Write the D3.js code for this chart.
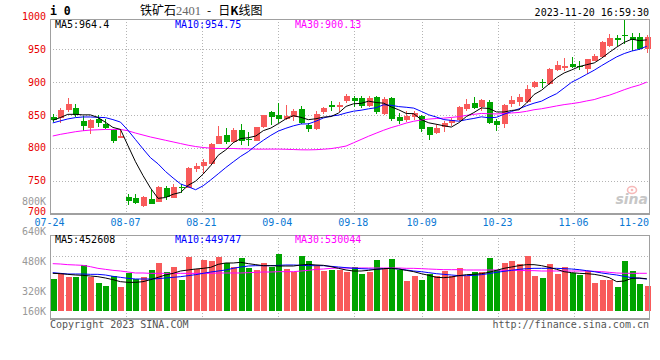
<!DOCTYPE html>
<html><head><meta charset="utf-8">
<script src="https://cdn.jsdelivr.net/npm/d3@7"></script>
<style>body{margin:0;background:#fff}svg{display:block}</style>
</head><body><svg id="c" width="660" height="360"></svg>
<script>
const dates = ["07-24","07-25","07-26","07-27","07-28","07-31","08-01","08-02","08-03","08-04","08-07","08-08","08-09","08-10","08-11","08-14","08-15","08-16","08-17","08-18","08-21","08-22","08-23","08-24","08-25","08-28","08-29","08-30","08-31","09-01","09-04","09-05","09-06","09-07","09-08","09-11","09-12","09-13","09-14","09-15","09-18","09-19","09-20","09-21","09-22","09-25","09-26","09-27","09-28","10-09","10-10","10-11","10-12","10-13","10-16","10-17","10-18","10-19","10-20","10-23","10-24","10-25","10-26","10-27","10-30","10-31","11-01","11-02","11-03","11-06","11-07","11-08","11-09","11-10","11-13","11-14","11-15","11-16","11-17","11-20"];
const tickLabels = ["07-24","08-07","08-21","09-04","09-18","10-09","10-23","11-06","11-20"];
const priceTicks = [700,750,800,850,900,950,1000];
const volTicks = [160,320,480,640,800];
const open = [847.5,845,858,860,841.5,830.5,844,837,827.5,815.5, 725,723.5,711.5,722,718,739,724,740.5,739.5,768.5, 772.5,775,806.5,819.5,809.5,827,813,811,831,854, 850.5,844.5,847.5,859,835.5,828.5,854,864.5,862.5,871, 876.5,875.5,863.5,877.5,851.5,875.5,846.5,842,847.5,849, 831,822,831,837.5,842.5,859,868,861.5,870.5,841.5, 836.5,866.5,870.5,870.5,892,901,897,918,922,927.5, 924.5,919.5,932.5,938.5,955,966.5,972.5,968.5,968.5,950];
const high = [852,861,876.5,867,848.5,844,850,844,829,828, 729,729,726.5,735.5,742.5,742,744.5,744.5,771,777.5, 782.5,808,833,830.5,829.5,836,824.5,832,850.5,856.5, 868,864.5,859,863,837.5,855.5,862,871,869.5,881.5, 879,879,879,879,877,877,852.5,855.5,855.5,849.5, 832,836.5,840.5,845.5,864,874.5,877,874.5,872.5,844, 866.5,879.5,882,896,902,904.5,922,932.5,937.5,938.5, 932.5,936,943.5,962.5,973.5,972.5,994,975.5,975.5,972.5];
const low = [840,837.5,855,847,825,821.5,832,829,807.5,815.5, 713,715,710.5,714,717.5,721,723.5,731.5,738.5,763.5, 759.5,774,805.5,806.5,808,804,803.5,810,830.5,835.5, 837.5,843,841.5,837,823.5,827,851,856,854,868, 862.5,861,862.5,851.5,850.5,840.5,836.5,839,842.5,823.5, 812,821,824.5,832.5,841.5,856.5,859,855.5,836.5,825.5, 830.5,862.5,864,869,891,891,896,917,917,921, 918,912,931.5,937.5,953.5,955,958.5,947.5,948.5,945];
const close = [842.5,857.5,867,850,834,842.5,838.5,830.5,810.5,818.5, 719,716,725,715,740.5,725,741,739.5,769,772.5, 779,805.5,818,809.5,827,810.5,812,831,850.5,846.5, 844.5,848,855.5,838,828.5,851.5,860.5,861.5,864.5,879.5, 871.5,863.5,876.5,854,874.5,843.5,841.5,848.5,852.5,828.5, 819.5,830,837.5,842.5,861.5,866.5,860.5,872.5,838,835.5, 865.5,872.5,878,889.5,900.5,898,920.5,926.5,924.5,923, 923.5,935,940,961,966.5,964.5,970.5,964.5,950,968.5];
const ma5 = [842,846,851,851,850.2,850.2,846.3,839.0,831.1,828.1, 803.4,778.9,757.8,738.7,723.1,724.3,729.3,732.1,742.9,749.3, 760.1,772.9,788.7,796.8,807.8,814.1,815.4,818.0,826.2,830.1, 836.9,844.1,849.0,846.4,842.9,844.3,846.8,847.6,853.0,863.1, 867.1,867.7,871.1,869.0,868.0,862.4,857.9,852.4,852.0,842.9, 838.1,835.9,833.6,831.6,838.2,847.6,853.7,860.8,859.9,854.7, 854.5,856.9,857.9,868.2,881.2,887.7,897.3,907.0,914.0,918.6, 923.7,926.6,929.3,936.6,945.3,953.4,960.6,965.5,963.3,964.4];
const ma10 = [838,841,844,846,847,847,846.5,846,843,839.2, 826.8,812.6,798.4,784.9,775.6,763.9,754.1,745.0,740.8,736.2, 742.2,751.1,760.4,769.9,778.6,787.1,794.2,803.4,811.5,819.0, 825.5,829.8,833.5,836.3,836.5,840.6,845.5,848.4,849.8,853.1, 855.8,857.3,859.4,861.1,865.6,864.8,862.8,861.8,860.5,855.5, 850.3,846.9,843.0,841.8,840.6,842.9,844.8,847.2,845.8,846.5, 851.1,855.3,859.4,864.1,868.0,871.1,877.1,882.5,891.1,899.9, 905.7,912.0,918.2,925.3,932.0,938.6,943.6,947.4,950.0,954.75];
const ma30 = [818,820.5,822.5,824.5,826,827,827.5,828,828,828, 826,822.5,819.5,816.5,814,811.5,809,806.5,804,802, 800.5,799.5,799,799,799,798.5,798.5,798,798,798.1, 798.1,797.8,797.4,797.0,796.9,797.2,797.9,798.8,800.6,802.7, 807.7,812.7,817.7,822.3,826.8,830.8,834.1,837.7,840.5,842.4, 843.8,844.6,845.2,846.3,847.5,849.4,851.0,852.4,851.9,851.6, 852.3,853.1,853.9,855.6,858.0,859.5,861.6,863.8,865.8,867.3, 869.0,871.4,873.5,877.1,880.1,884.2,888.5,892.4,895.6,900.13];
// volume, thousands of lots
const volume = [449.9,529.6,482.7,482.7,646.8,478.0,393.7,351.5,492.1,337.4, 539.0,449.9,473.4,576.5,674.9,543.7,618.6,435.9,759.2,590.5, 717.0,703.0,759.2,670.2,623.3,745.2,604.6,576.5,674.9,623.3, 801.4,590.5,553.0,773.3,707.7,637.4,567.1,581.1,581.1,553.0, 618.6,520.2,543.7,717.0,595.2,731.1,581.1,421.8,496.8,435.9, 520.2,496.8,562.4,496.8,604.6,496.8,548.3,548.3,745.2,576.5, 674.9,703.0,656.2,773.3,492.1,464.0,660.8,520.2,618.6,534.3, 506.2,562.4,393.7,440.6,440.6,337.4,703.0,562.4,379.6,351.5];
const volMa5 = [529.6,524.9,515.5,506.2,501.5,492.1,482.7,464.0,440.5,412.4, 403.1,403.1,412.4,440.5,473.4,506.2,529.6,562.4,576.5,590.5, 599.9,614.0,656.1,674.9,674.9,684.3,665.5,651.4,637.4,637.4, 632.7,632.7,632.7,646.8,656.1,646.8,642.1,623.3,599.9,576.5, 562.4,562.4,571.8,585.8,595.2,599.9,590.5,571.8,553.0,524.9, 501.5,473.4,468.7,478.0,496.8,510.8,515.5,524.9,543.7,571.8, 599.9,618.6,637.4,651.4,651.4,637.4,614.0,585.8,553.0,539.0, 529.6,524.9,515.5,496.8,468.7,412.4,421.8,459.3,464.0,452.6];
const volMa10 = [539.0,529.6,520.2,520.2,520.2,515.5,515.5,506.2,487.4,473.4, 459.3,449.9,449.9,449.9,454.6,464.0,473.4,482.7,496.8,510.8, 529.6,548.3,562.4,576.5,599.9,618.6,632.7,637.4,637.4,637.4, 642.1,646.8,646.8,642.1,637.4,637.4,637.4,628.0,618.6,609.3, 599.9,595.2,590.5,585.8,595.2,599.9,590.5,576.5,562.4,553.0, 539.0,524.9,515.5,506.2,496.8,496.8,501.5,510.8,524.9,543.7, 557.7,571.8,585.8,595.2,599.9,599.9,599.9,599.9,595.2,590.5, 581.2,567.1,553.0,534.3,520.2,506.2,487.4,468.7,459.3,449.7];
const volMa30 = [665.5,660.8,651.4,646.8,642.1,623.3,599.9,585.8,571.8,562.4, 548.3,534.3,534.3,529.6,529.6,529.6,529.6,529.6,529.6,529.6, 529.6,529.6,534.3,534.3,534.3,534.3,539.0,543.7,548.3,548.3, 553.0,553.0,553.0,562.4,571.8,585.8,590.5,599.9,604.6,604.6, 604.6,604.6,604.6,604.6,604.6,604.6,604.6,599.9,599.9,595.2, 590.5,585.8,581.2,581.2,581.2,576.5,576.5,576.5,576.5,576.5, 571.8,571.8,571.8,567.1,567.1,562.4,562.4,562.4,562.4,562.4, 562.4,562.4,557.7,553.0,543.7,534.3,530.0,530.0,530.0,530.0];
const volHeader = [452608, 449747, 530044];

const mono = '"DejaVu Sans Mono", monospace';
const UP = '#f85a5a', DOWN = '#00a400', GRID = '#b4b4b4', BORDER = '#a0a0a0';
const svg = d3.select('#c');
svg.append('rect').attr('width',660).attr('height',360).attr('fill','#fff');

const L = 50, R = 650;
const mainTop = 19, mainBot = 213;
const volTop = 235, volBot = 318, volBase = 311;
const idx = d3.range(dates.length);

const xb = d3.scaleBand().domain(idx).range([49, 650.6]);
const xc = i => xb(i) + xb.bandwidth() / 2;
const bodyW = 6;
const xg = d3.scalePoint().domain(idx).range([L, R]);
const y = d3.scaleLinear().domain([700, 1000]).range([213.5, 16.5]);
const yv = d3.scaleLinear().domain([0, 1000]).range([volBase, volBase - 1000 / 14.06]);
const yvLabel = d3.scaleLinear().domain([160, 800]).range([321, 201]);
const px = v => Math.round(v) + 0.5;

const tickIdx = tickLabels.map(t => dates.indexOf(t));

// grid
const g = svg.append('g').attr('shape-rendering','crispEdges');
priceTicks.filter(v => v > 700 && v < 1000).forEach(v => {
  g.append('line').attr('x1', L).attr('x2', R).attr('y1', px(y(v))).attr('y2', px(y(v)))
    .attr('stroke', GRID).attr('stroke-dasharray','1,2');
});
tickIdx.filter(i => i > 0 && i < dates.length - 1).forEach(i => {
  const xx = px(xg(i));
  g.append('line').attr('x1', xx).attr('x2', xx).attr('y1', mainTop).attr('y2', mainBot)
    .attr('stroke', GRID).attr('stroke-dasharray','1,2');
  g.append('line').attr('x1', xx).attr('x2', xx).attr('y1', volTop).attr('y2', volBot)
    .attr('stroke', GRID).attr('stroke-dasharray','1,2');
});
[0.25, 0.725].forEach(f => {
  const yy = px(volTop + (volBot - volTop) * f);
  g.append('line').attr('x1', L).attr('x2', R).attr('y1', yy).attr('y2', yy)
    .attr('stroke', GRID).attr('stroke-dasharray','1,2');
});

// candles
const cg = svg.append('g').attr('shape-rendering','crispEdges');
idx.forEach(i => {
  const up = close[i] >= open[i];
  const col = up ? UP : DOWN;
  const cx = Math.round(xc(i));
  cg.append('line').attr('x1', cx + 0.5).attr('x2', cx + 0.5)
    .attr('y1', y(high[i])).attr('y2', y(low[i])).attr('stroke', col);
  const top = y(Math.max(open[i], close[i])), bot = y(Math.min(open[i], close[i]));
  cg.append('rect').attr('x', cx - 2.5).attr('width', bodyW)
    .attr('y', top).attr('height', Math.max(1, bot - top)).attr('fill', col);
});

// volume bars
idx.forEach(i => {
  const up = close[i] >= open[i];
  const cx = Math.round(xc(i));
  cg.append('rect').attr('x', cx - 2.5).attr('width', bodyW)
    .attr('y', yv(volume[i])).attr('height', volBase - yv(volume[i]))
    .attr('fill', up ? UP : DOWN);
});

// MA lines
const lineP = arr => d3.line().x(i => xc(i)).y(i => y(arr[i]))(idx);
const lineV = arr => d3.line().x(i => xc(i)).y(i => yv(arr[i]))(idx);
[[ma30,'#ff00ff'],[ma10,'#0000ff'],[ma5,'#000']].forEach(([a,c]) =>
  svg.append('path').attr('d', lineP(a)).attr('fill','none').attr('stroke',c).attr('stroke-width',1));
[[volMa30,'#ff00ff'],[volMa10,'#0000ff'],[volMa5,'#000']].forEach(([a,c]) =>
  svg.append('path').attr('d', lineV(a)).attr('fill','none').attr('stroke',c).attr('stroke-width',1));

// borders
const b = svg.append('g').attr('shape-rendering','crispEdges').attr('stroke', BORDER).attr('fill','none');
b.append('line').attr('x1', L).attr('x2', R).attr('y1', mainTop + 0.5).attr('y2', mainTop + 0.5);
b.append('line').attr('x1', L + 0.5).attr('x2', L + 0.5).attr('y1', mainTop).attr('y2', mainBot + 1);
b.append('line').attr('x1', R - 0.5).attr('x2', R - 0.5).attr('y1', mainTop).attr('y2', mainBot + 1);
b.append('line').attr('x1', L).attr('x2', R).attr('y1', mainBot + 0.5).attr('y2', mainBot + 0.5).attr('stroke-width', 2);
b.append('line').attr('x1', L).attr('x2', R).attr('y1', volTop + 0.5).attr('y2', volTop + 0.5);
b.append('line').attr('x1', L + 0.5).attr('x2', L + 0.5).attr('y1', volTop).attr('y2', volBot + 1);
b.append('line').attr('x1', R - 0.5).attr('x2', R - 0.5).attr('y1', volTop).attr('y2', volBot + 1);
b.append('line').attr('x1', L).attr('x2', R).attr('y1', volBot + 0.5).attr('y2', volBot + 0.5).attr('stroke-width', 2);

// watermark
const wm = svg.append('g').attr('opacity', 0.55);
wm.append('ellipse').attr('cx', 632).attr('cy', 190).attr('rx', 4.5).attr('ry', 3.5)
  .attr('fill','none').attr('stroke','#f08080').attr('stroke-width',1.6);
wm.append('circle').attr('cx', 632).attr('cy', 190).attr('r', 1.3).attr('fill','#f08080');
wm.append('text').attr('x', 648).attr('y', 204).attr('text-anchor','end')
  .attr('font-family','"DejaVu Sans", sans-serif').attr('font-weight','bold').attr('font-style','italic')
  .attr('font-size', 14).attr('fill','#9a9a9a').text('sina');

// texts
const T = (x, yy, s, opts = {}) => svg.append('text').attr('x', x).attr('y', yy)
  .attr('font-family', opts.family || mono).attr('font-size', opts.size || 10)
  .attr('fill', opts.fill || '#000').attr('text-anchor', opts.anchor || 'start')
  .attr('font-weight', opts.weight || 'normal').text(s);

priceTicks.forEach(v => T(46, Math.min(y(v) + 3.6, 215.2), v, {fill:'#e80000', anchor:'end'}));
volTicks.forEach(v => T(46, Math.min(yvLabel(v), 311.3) + 3.6, v + 'K', {fill:'#999', anchor:'end'}));

tickIdx.forEach((i, k) => {
  let xx = xg(i) - 0.5;
  const half = tickLabels[k].length * 3;
  if (xx + half > 649) xx = 649 - half;
  T(xx, 225.8, tickLabels[k], {fill:'#0a78d4', anchor:'middle'});
});

T(50, 15, 'i 0', {weight:'bold', size:11.5});
const title = svg.append('text').attr('x', 140).attr('y', 14.8).attr('font-size', 12)
  .attr('font-family','"Noto Sans CJK SC", sans-serif');
title.append('tspan').text('铁矿石');
title.append('tspan').attr('font-family','"Liberation Serif", serif').attr('fill','#666').attr('font-size', 12.5).text('2401');
title.append('tspan').attr('dx', 6).text('-');
title.append('tspan').attr('dx', 7).text('日');
title.append('tspan').attr('font-weight','bold').text('K');
title.append('tspan').text('线图');
T(649, 16, '2023-11-20 16:59:30', {anchor:'end'});

T(55, 27.5, 'MA5:' + ma5[ma5.length - 1], {});
T(175, 27.5, 'MA10:' + ma10[ma10.length - 1], {fill:'#0000ff'});
T(295, 27.5, 'MA30:' + ma30[ma30.length - 1], {fill:'#ff00ff'});
T(55, 242.5, 'MA5:' + volHeader[0], {});
T(175, 242.5, 'MA10:' + volHeader[1], {fill:'#0000ff'});
T(295, 242.5, 'MA30:' + volHeader[2], {fill:'#ff00ff'});

T(50, 327.5, 'Copyright 2023 SINA.COM', {fill:'#555'});
T(649, 327.5, 'http://finance.sina.com.cn', {fill:'#555', anchor:'end'});
</script>
</body></html>
